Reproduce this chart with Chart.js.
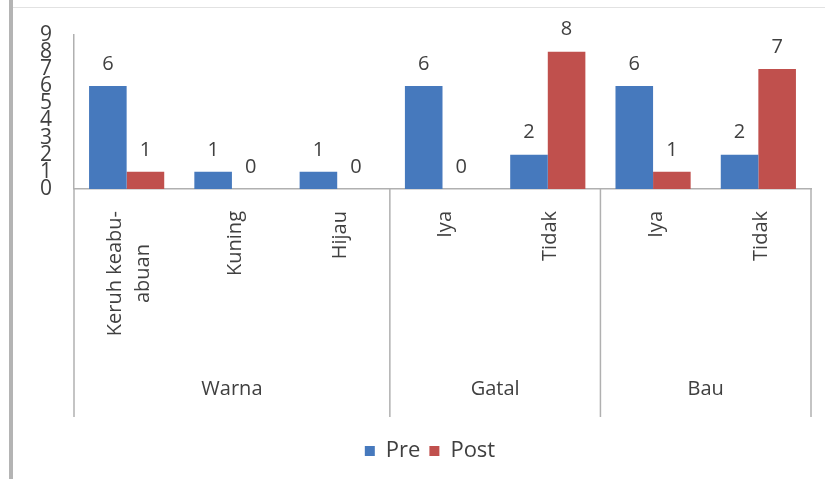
<!DOCTYPE html>
<html>
<head>
<meta charset="utf-8">
<script src="https://cdn.jsdelivr.net/npm/chart.js@4.4.0/dist/chart.umd.min.js"></script>
<style>
  html, body { margin: 0; padding: 0; background: #fff; }
  #wrap { width: 825px; height: 479px; position: relative; }
</style>
</head>
<body>
<div id="wrap"><canvas id="grafik"></canvas></div>
<script>
// data
const kategori = [["Keruh keabu-", "abuan"], ["Kuning"], ["Hijau"], ["Iya"], ["Tidak"], ["Iya"], ["Tidak"]];
const kelompok = ["Warna", "Gatal", "Bau"];
const jumlahPerKelompok = [3, 2, 2];
const nilaiPre = [6, 1, 1, 6, 2, 6, 2];
const nilaiPost = [1, 0, 0, 0, 8, 1, 7];
const yMin = 0, yMax = 9, yStep = 1;

const huruf = '"Open Sans", "DejaVu Sans", sans-serif';
const abuTeks = '#404040';
const abuGaris = '#b0b0b0';

// bingkai kiri & atas
const bingkai = {
    id: 'bingkai',
    beforeDraw(chart) {
        const ctx = chart.ctx;
        ctx.save();
        ctx.fillStyle = '#fff';
        ctx.fillRect(0, 0, chart.width, chart.height);
        ctx.fillStyle = '#b4b4b4';
        ctx.fillRect(9, 0, 4, chart.height);
        ctx.fillStyle = '#e2e2e2';
        ctx.fillRect(13, 7, chart.width - 13, 1);
        ctx.restore();
    }
};

// angka di atas batang
const labelNilai = {
    id: 'labelNilai',
    afterDatasetsDraw(chart) {
        const ctx = chart.ctx;
        ctx.save();
        ctx.font = '20px ' + huruf;
        ctx.fillStyle = abuTeks;
        ctx.textAlign = 'center';
        ctx.textBaseline = 'middle';
        chart.data.datasets.forEach((ds, i) => {
            chart.getDatasetMeta(i).data.forEach((el, j) => {
                ctx.fillText(ds.data[j], el.x, el.y - 22);
            });
        });
        ctx.restore();
    }
};

// sumbu x bertingkat
const sumbuX = {
    id: 'sumbuX',
    afterDraw(chart) {
        const ctx = chart.ctx;
        const x = chart.scales.x;
        const area = chart.chartArea;
        const lebar = x.getPixelForValue(1) - x.getPixelForValue(0);
        ctx.save();
        ctx.fillStyle = abuTeks;
        ctx.font = '20px ' + huruf;
        chart.data.labels.forEach((lbl, i) => {
            const cx = x.getPixelForValue(i);
            const baris = Array.isArray(lbl) ? lbl : [lbl];
            const w = Math.max(...baris.map(b => ctx.measureText(b).width));
            ctx.save();
            ctx.translate(cx + 3, area.bottom + 22 + w / 2);
            ctx.rotate(-Math.PI / 2);
            ctx.textAlign = 'center';
            ctx.textBaseline = 'middle';
            baris.forEach((b, k) => ctx.fillText(b, 0, (k - (baris.length - 1) / 2) * 28));
            ctx.restore();
        });

        ctx.strokeStyle = abuGaris;
        ctx.lineWidth = 1.5;
        ctx.textAlign = 'center';
        ctx.textBaseline = 'middle';
        let idx = 0;
        const garis = (px) => {
            ctx.beginPath();
            ctx.moveTo(px, area.bottom);
            ctx.lineTo(px, area.bottom + 228);
            ctx.stroke();
        };
        garis(x.getPixelForValue(0) - lebar / 2);
        kelompok.forEach((g, i) => {
            const kiri = x.getPixelForValue(idx) - lebar / 2;
            idx += jumlahPerKelompok[i];
            const kanan = x.getPixelForValue(idx - 1) + lebar / 2;
            garis(kanan);
            ctx.fillText(g, (kiri + kanan) / 2, area.bottom + 200);
        });
        ctx.restore();
    }
};

const grafik = new Chart(document.getElementById('grafik'), {
    type: 'bar',
    data: {
        labels: kategori,
        datasets: [
            { label: 'Pre', data: nilaiPre, backgroundColor: '#4679bd' },
            { label: 'Post', data: nilaiPost, backgroundColor: '#c0504d' }
        ]
    },
    options: {
        responsive: true,
        maintainAspectRatio: false,
        animation: false,
        layout: { padding: { left: 38, right: 3, top: 30, bottom: 7 } },
        datasets: { bar: { barPercentage: 1, categoryPercentage: 0.714 } },
        plugins: {
            legend: {
                position: 'bottom',
                labels: {
                    boxWidth: 10,
                    boxHeight: 10,
                    color: abuTeks,
                    padding: 9,
                    font: { family: huruf, size: 22 }
                }
            },
            tooltip: { enabled: false }
        },
        scales: {
            x: {
                grid: { display: false, drawTicks: false },
                border: { display: true, color: abuGaris, width: 1.5 },
                ticks: { display: false },
                afterFit: s => { s.height = 242; }
            },
            y: {
                min: yMin,
                max: yMax,
                grid: { display: false, drawTicks: false },
                border: { display: true, color: abuGaris, width: 1.5 },
                ticks: {
                    stepSize: yStep,
                    autoSkip: false,
                    padding: 22,
                    color: abuTeks,
                    font: { family: huruf, size: 21 }
                },
                afterFit: s => { s.width = 36; }
            },
            // ruang kosong di kanan area plot
            kanan: {
                type: 'linear',
                position: 'right',
                grid: { display: false, drawTicks: false },
                border: { display: false },
                ticks: { display: false },
                afterFit: s => { s.width = 11; }
            }
        }
    },
    plugins: [bingkai, labelNilai, sumbuX]
});
</script>
</body>
</html>
